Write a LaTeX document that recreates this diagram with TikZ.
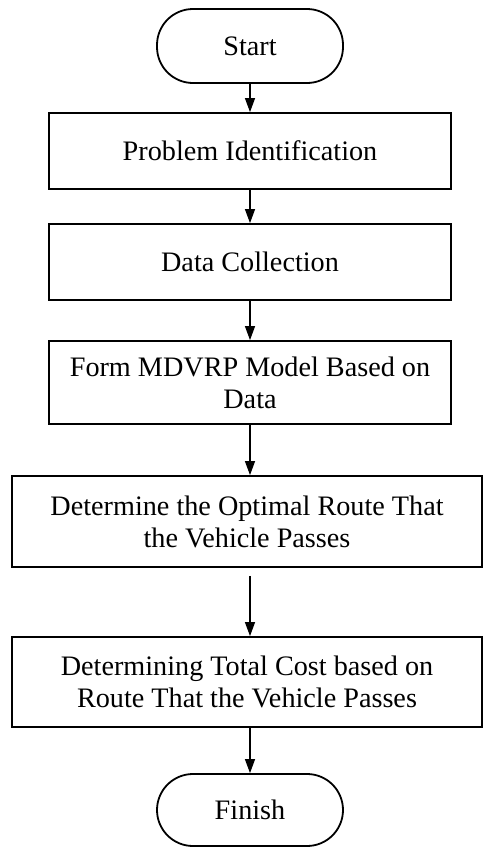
\documentclass[tikz,border=0pt]{standalone}
\usepackage{fontspec}
\setmainfont{Liberation Serif}
\usetikzlibrary{arrows.meta}

\tikzset{
    terminal/.style={draw, line width=0.9pt, rounded corners=18pt, minimum width=93pt, minimum height=37pt, align=center},
    procbox/.style={draw, line width=0.9pt, minimum width=201pt, align=center},
    widebox/.style={draw, line width=0.9pt, minimum width=235pt, align=center},
    flowarrow/.style={-{Triangle[width=5pt,length=7pt]}, line width=0.6pt}
}

\begin{document}
\begin{tikzpicture}[x=0.5pt,y=-0.5pt,font=\fontsize{14.1}{16}\selectfont]
        \useasboundingbox (0,0) rectangle (483,847); % page size of the chart
        \node[terminal] (start) at (250,46) {Start}; % start terminal
        \node[procbox, minimum height=38pt] (ident) at (250,151) {Problem Identification};
        \node[procbox, minimum height=38pt] (collect) at (250,262) {Data Collection};
        \node[procbox, minimum height=41.5pt] (model) at (250,382.5) {Form MDVRP Model Based on\\Data};
        \node[widebox, minimum height=45.5pt] (route) at (247,521.5) {Determine the Optimal Route That\\the Vehicle Passes};
        \node[widebox, minimum height=45pt] (cost) at (247,682) {Determining Total Cost based on\\Route That the Vehicle Passes};
        \node[terminal, minimum height=36pt] (finish) at (250,810) {Finish}; % end terminal
        \draw[flowarrow] (start) -- (ident); % arrows down the chart
        \draw[flowarrow] (ident) -- (collect);
        \draw[flowarrow] (collect) -- (model);
        \draw[flowarrow] (model.south) -- (model.south |- route.north);
        \draw[flowarrow, shorten <=4pt] (route.south -| model.south) -- (model.south |- cost.north);
        \draw[flowarrow] (cost.south -| finish.north) -- (finish.north);
    \end{tikzpicture}
\end{document}
